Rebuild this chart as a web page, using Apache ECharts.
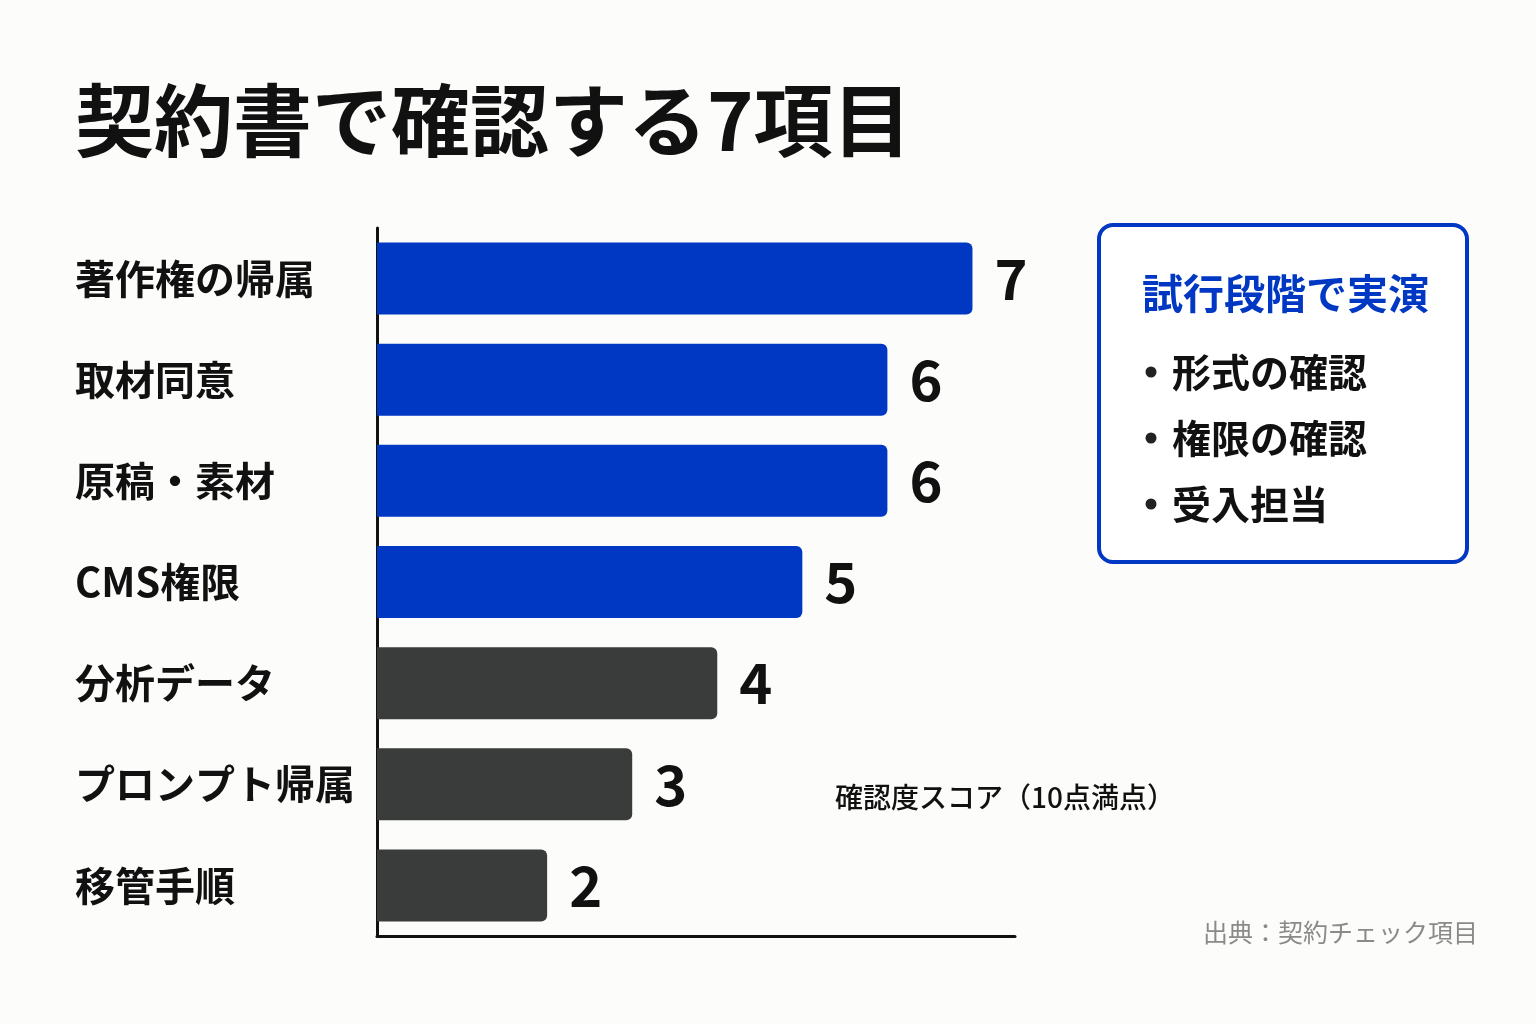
<!DOCTYPE html>
<html>
<head>
<meta charset="utf-8">
<style>
html,body{margin:0;padding:0;background:#fcfcfa;}
#main{width:1536px;height:1024px;}
</style>
<script src="https://cdn.jsdelivr.net/npm/echarts@6/dist/echarts.min.js"></script>
</head>
<body>
<div id="main"></div>
<script>
// 項目名（上から順）
var items = ['著作権の帰属', '取材同意', '原稿・素材', 'CMS権限', '分析データ', 'プロンプト帰属', '移管手順'];
// 確認度スコア
var scores = [7, 6, 6, 5, 4, 3, 2];
// 試行段階で実演する項目かどうか
var trial = [true, true, true, true, false, false, false];
// 右側の枠内テキスト
var boxTitle = '試行段階で実演';
var boxItems = ['形式の確認', '権限の確認', '受入担当'];

var chartTitle = '契約書で確認する7項目';
var axisName = '確認度スコア（10点満点）';
var source = '出典：契約チェック項目';

var FONT = '"Noto Sans CJK JP", "Noto Sans", sans-serif';
var BLUE = '#0038C3';
var DARK = '#393C3B';

var chart = echarts.init(document.getElementById('main'));

var barData = [];
for (var i = 0; i < scores.length; i++) {
	barData.push({
		value: scores[i],
		itemStyle: {color: trial[i] ? BLUE : DARK}
	});
}

// 枠内の箇条書き
var boxChildren = [
	{
		type: 'rect',
		shape: {x: 0, y: 0, width: 368, height: 337, r: 14},
		style: {fill: '#ffffff', stroke: BLUE, lineWidth: 4}
	},
	{
		type: 'text',
		x: 43, y: 68,
		style: {text: boxTitle, font: 'bold 41px ' + FONT, fill: BLUE, verticalAlign: 'middle'}
	}
];
for (var j = 0; j < boxItems.length; j++) {
	boxChildren.push({
		type: 'circle',
		shape: {cx: 52, cy: 147 + j * 66, r: 5.5},
		style: {fill: '#222222'}
	});
	boxChildren.push({
		type: 'text',
		x: 73, y: 147 + j * 66,
		style: {text: boxItems[j], font: 'bold 39px ' + FONT, fill: '#111111', verticalAlign: 'middle'}
	});
}

var option = {
	backgroundColor: '#fcfcfa',
	animation: false,
	textStyle: {fontFamily: FONT},
	title: {
		text: chartTitle,
		left: 70,
		top: 76,
		textStyle: {fontSize: 79, fontWeight: 'bold', color: '#111111', fontFamily: FONT}
	},
	grid: {left: 377, right: 521, top: 228, bottom: 88, containLabel: false},
	xAxis: {
		type: 'value',
		min: 0,
		max: 7.5,
		axisLine: {show: true, lineStyle: {color: '#111111', width: 3}},
		axisTick: {show: false},
		axisLabel: {show: false},
		splitLine: {show: false}
	},
	yAxis: {
		type: 'category',
		inverse: true,
		data: items,
		axisLine: {show: true, lineStyle: {color: '#111111', width: 3}},
		axisTick: {show: false},
		axisLabel: {
			align: 'left',
			margin: 302,
			fontSize: 40,
			fontWeight: 'bold',
			color: '#111111',
			fontFamily: FONT
		}
	},
	series: [{
		type: 'bar',
		data: barData,
		barWidth: 72,
		itemStyle: {borderRadius: [0, 6, 6, 0]},
		label: {
			show: true,
			position: 'right',
			distance: 22,
			fontSize: 56,
			fontWeight: 'bold',
			color: '#111111',
			fontFamily: FONT
		}
	}],
	graphic: [
		{
			type: 'group',
			x: 1099, y: 225,
			children: boxChildren
		},
		{
			type: 'text',
			x: 835, y: 797,
			style: {text: axisName, font: '500 28px ' + FONT, fill: '#111111', verticalAlign: 'middle'}
		},
		{
			type: 'text',
			x: 1478, y: 932,
			style: {text: source, font: '25px ' + FONT, fill: '#8a8a8a', align: 'right', verticalAlign: 'middle'}
		}
	]
};

chart.setOption(option);
</script>
</body>
</html>
